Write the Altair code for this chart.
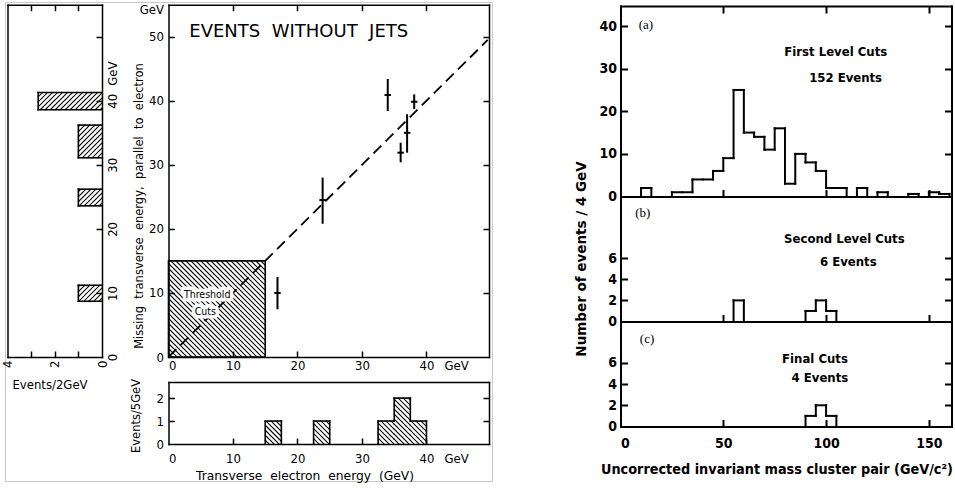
import altair as alt
import numpy as np
import pandas as pd

W, H = 955, 488

# ---------------- data ----------------
# Left figure: events without jets (transverse electron energy vs missing ET)
electron_et = [34.0, 38.1, 37.0, 36.0, 23.9, 16.9]
missing_et = [40.9, 39.85, 35.0, 31.9, 24.5, 10.0]
missing_lo = [38.4, 38.7, 31.9, 30.4, 20.8, 7.45]
missing_hi = [43.4, 41.0, 37.9, 33.45, 28.0, 12.5]
electron_err = [0.5, 0.5, 0.5, 0.5, 0.5, 0.5]
diagonal = [0.0, 49.5]
threshold_lo = [0.0]
threshold_hi = [15.0]

# projection on missing transverse energy (Events/2GeV)
proj_lo = [8.7, 23.6, 31.1, 38.6]
proj_hi = [11.2, 26.2, 36.2, 41.3]
proj_n = [1, 1, 1, 2.7]

# projection on transverse electron energy (Events/5GeV)
ele_lo = [15.0, 22.5, 32.5, 35.0, 37.5]
ele_hi = [17.5, 25.0, 35.0, 37.5, 40.0]
ele_n = [1, 1, 1, 2, 1]

# Right figure: uncorrected invariant mass of cluster pair
bin_width = 5
mass_lo_a = [10, 25, 30, 35, 40, 45, 50, 55, 60, 65, 70, 75, 80, 85, 90, 95,
             100, 105, 115, 125, 140, 150, 155]
count_a = [2, 1, 1, 4, 4, 6, 9, 25, 15, 14, 11, 16, 3, 10, 8, 6,
           2, 2, 2, 1, 0.6, 1, 0.6]
mass_lo_b = [55, 90, 95, 100]
count_b = [2, 1, 2, 1]
mass_lo_c = [90, 95, 100]
count_c = [1, 2, 1]

# tick values / labels
main_ticks = [10, 20, 30, 40, 50]
main_x_ticks = [10, 20, 30, 40]
main_y_labels = [0, 10, 20, 30, 40, 50, 54.2]
main_x_labels = [0, 10, 20, 30, 40, 44.6]
side_labels = [0, 10, 20, 30, 40, 44.3]
side_count_ticks = [1, 2, 3]
side_count_labels = [0, 2, 4]
bottom_y_ticks = [1, 2]
bottom_y_labels = [0, 1, 2]
mass_ticks = [50, 100, 150]
mass_labels = [0, 50, 100, 150]
a_ticks = [10, 20, 30, 40]
a_labels = [0, 10, 20, 30, 40]
bc_ticks = [2, 4, 6]
bc_labels = [0, 2, 4, 6]

# ---------------- layout (pixels) ----------------
MX_D, MX_R = (0, 49.7), (168.5, 489)
MY_D, MY_R = (0, 55), (357, 4.7)
LX_D, LX_R = (0, 4), (102, 7.5)
BY_D, BY_R = (0, 2.7), (444, 382)
RX_D, RX_R = (0, 161), (620.5, 951.5)
AY_D, AY_R = (0, 44.7), (196.5, 6)
BY2_D, BY2_R = (0, 11.85), (321.5, 196.5)
CY_D, CY_R = (0, 9.9), (426.5, 321.5)

FONT_C = "DejaVu Sans Condensed, DejaVu Sans"
FONT_N = "DejaVu Sans"
SP2 = "\u00a0\u00a0"
ONE = pd.DataFrame({"a": [0]})


def S(d, r):
    return alt.Scale(domain=list(d), range=list(r), nice=False, zero=False)


def lin(d, r):
    (d0, d1), (r0, r1) = d, r
    return (lambda v: r0 + (v - d0) * (r1 - r0) / (d1 - d0),
            lambda p: d0 + (p - r0) * (d1 - d0) / (r1 - r0))


def hatch(rects, xd, xr, yd, yr, slope, step=5.0):
    fx, gx = lin(xd, xr)
    fy, gy = lin(yd, yr)
    rows = []
    for (x0, x1, y0, y1) in rects:
        u0, u1 = sorted([fx(x0), fx(x1)])
        w0, w1 = sorted([-fy(y0), -fy(y1)])
        if slope > 0:
            kmin, kmax = w0 - u1, w1 - u0
        else:
            kmin, kmax = w0 + u0, w1 + u1
        for n in range(int(np.ceil(kmin / step)), int(np.floor(kmax / step)) + 1):
            k = n * step
            if slope > 0:
                ua, ub = max(u0, w0 - k), min(u1, w1 - k)
                wa, wb = ua + k, ub + k
            else:
                ua, ub = max(u0, k - w1), min(u1, k - w0)
                wa, wb = -ua + k, -ub + k
            if ub - ua < 0.4:
                continue
            rows.append((gx(ua), gy(-wa), gx(ub), gy(-wb)))
    return pd.DataFrame(rows, columns=["x", "y", "x2", "y2"])


def steps(lo, hi, n):
    segs = [(a, b, h, h) for a, b, h in zip(lo, hi, n)]
    for e in sorted(set(lo) | set(hi)):
        left = sum(h for a, b, h in zip(lo, hi, n) if abs(b - e) < 1e-9)
        right = sum(h for a, b, h in zip(lo, hi, n) if abs(a - e) < 1e-9)
        if abs(left - right) > 1e-9:
            segs.append((e, e, min(left, right), max(left, right)))
    return pd.DataFrame(segs, columns=["p0", "p1", "v0", "v1"])


def ax_layer(ch, dom, rng, orient, at, values, labels=False, ticks=True,
             domain=True, width=1.5, tick_size=6, **kw):
    off = {"left": -at, "right": at - W, "top": -at, "bottom": at - H}[orient]
    if not values:
        ticks = False
    axis = alt.Axis(orient=orient, offset=off, values=list(values), labels=labels,
                    ticks=ticks, domain=domain, grid=False, title=None,
                    tickSize=tick_size, tickWidth=width, domainWidth=width,
                    domainColor="black", tickColor="black", domainCap="square",
                    labelColor="black", zindex=2, **kw)
    df = pd.DataFrame({"v": [dom[0]]})
    enc = (alt.X("v:Q", scale=S(dom, rng), axis=axis) if ch == "x"
           else alt.Y("v:Q", scale=S(dom, rng), axis=axis))
    return alt.Chart(df).mark_point(opacity=0).encode(**{ch: enc})


def frame(xd, xr, yd, yr, t_bottom, t_top, t_left, t_right, width, ts):
    xl, xg = min(xr), max(xr)
    yb, yt = max(yr), min(yr)
    return [
        ax_layer("x", xd, xr, "top", yb, t_bottom, width=width, tick_size=ts),
        ax_layer("x", xd, xr, "bottom", yt, t_top, width=width, tick_size=ts),
        ax_layer("y", yd, yr, "right", xl, t_left, width=width, tick_size=ts),
        ax_layer("y", yd, yr, "left", xg, t_right, width=width, tick_size=ts),
    ]


def ptext(text, x, y, size, font, weight="normal", angle=0, align="center"):
    return alt.Chart(ONE).mark_text(text=text, fontSize=size, font=font, fontWeight=weight,
                                    angle=angle, align=align, baseline="middle",
                                    color="black").encode(x=alt.value(x), y=alt.value(y))


def dtext(texts, xs, ys, xd, xr, yd, yr, size, font, weight="normal", align="center",
          halo=False):
    df = pd.DataFrame({"t": texts, "x": xs, "y": ys})
    enc = dict(x=alt.X("x:Q", scale=S(xd, xr), axis=None),
               y=alt.Y("y:Q", scale=S(yd, yr), axis=None), text="t:N")
    out = []
    if halo:
        out.append(alt.Chart(df).mark_text(fontSize=size, font=font, fontWeight=weight,
                                           align=align, baseline="middle", color="white",
                                           stroke="white", strokeWidth=7,
                                           strokeJoin="round").encode(**enc))
    out.append(alt.Chart(df).mark_text(fontSize=size, font=font, fontWeight=weight,
                                       align=align, baseline="middle",
                                       color="black").encode(**enc))
    return out


def seg_layer(df, xd, xr, yd, yr, xcols, ycols, width):
    return alt.Chart(df).mark_rule(color="black", strokeWidth=width, strokeCap="square").encode(
        x=alt.X(f"{xcols[0]}:Q", scale=S(xd, xr), axis=None), x2=f"{xcols[1]}:Q",
        y=alt.Y(f"{ycols[0]}:Q", scale=S(yd, yr), axis=None), y2=f"{ycols[1]}:Q")


layers = []

# light border around the left figure
layers.append(alt.Chart(ONE).mark_rect(fill="white", fillOpacity=0, stroke="#c8c8c8",
                                        strokeWidth=1).encode(
    x=alt.value(5.5), x2=alt.value(492.5), y=alt.value(2.5), y2=alt.value(481.5)))

# ---------- main panel ----------
thr_rect = [(threshold_lo[0], threshold_hi[0], threshold_lo[0], threshold_hi[0])]
layers.append(seg_layer(hatch(thr_rect, MX_D, MX_R, MY_D, MY_R, -1, 5.0),
                        MX_D, MX_R, MY_D, MY_R, ("x", "x2"), ("y", "y2"), 1.1))
diag_df = pd.DataFrame({"x": diagonal, "y": diagonal})
layers.append(alt.Chart(diag_df).mark_line(color="black", strokeWidth=1.8,
                                           strokeDash=[11, 6]).encode(
    x=alt.X("x:Q", scale=S(MX_D, MX_R), axis=None),
    y=alt.Y("y:Q", scale=S(MY_D, MY_R), axis=None)))
thr_df = pd.DataFrame({"lo": threshold_lo, "hi": threshold_hi})
layers.append(alt.Chart(thr_df).mark_rect(fill="white", fillOpacity=0, stroke="black",
                                          strokeWidth=1.6).encode(
    x=alt.X("lo:Q", scale=S(MX_D, MX_R), axis=None), x2="hi:Q",
    y=alt.Y("lo:Q", scale=S(MY_D, MY_R), axis=None), y2="hi:Q"))
layers += dtext(["Threshold", "Cuts"], [6.0, 5.7], [9.7, 7.1], MX_D, MX_R, MY_D, MY_R,
                10.5, FONT_C, halo=True)

pts = pd.DataFrame({"x": electron_et, "y": missing_et, "ylo": missing_lo,
                    "yhi": missing_hi, "e": electron_err})
pts["xlo"] = pts["x"] - pts["e"]
pts["xhi"] = pts["x"] + pts["e"]
layers.append(alt.Chart(pts).mark_rule(color="black", strokeWidth=2).encode(
    x=alt.X("x:Q", scale=S(MX_D, MX_R), axis=None),
    y=alt.Y("ylo:Q", scale=S(MY_D, MY_R), axis=None), y2="yhi:Q"))
layers.append(alt.Chart(pts).mark_rule(color="black", strokeWidth=2).encode(
    x=alt.X("xlo:Q", scale=S(MX_D, MX_R), axis=None), x2="xhi:Q",
    y=alt.Y("y:Q", scale=S(MY_D, MY_R), axis=None)))
layers += dtext([SP2.join(["EVENTS", "WITHOUT", "JETS"])], [20.2], [50.8],
                MX_D, MX_R, MY_D, MY_R, 18, FONT_N)

layers += frame(MX_D, MX_R, MY_D, MY_R, main_x_ticks, main_x_ticks, main_ticks,
                main_ticks, 1.5, 6)
layers.append(ax_layer("y", MY_D, MY_R, "left", MX_R[0], main_y_labels, labels=True,
                       ticks=False, domain=False, labelFont=FONT_C, labelFontSize=13,
                       labelPadding=5,
                       labelExpr="datum.value > 52 ? 'GeV' : datum.label"))
layers.append(ax_layer("x", MX_D, MX_R, "bottom", MY_R[0], main_x_labels, labels=True,
                       ticks=False, domain=False, labelFont=FONT_C, labelFontSize=13,
                       labelPadding=2,
                       labelExpr="datum.value > 42 ? 'GeV' : datum.label"))

# ---------- side projection (missing ET) ----------
side_rects = [(0, n, a, b) for a, b, n in zip(proj_lo, proj_hi, proj_n)]
layers.append(seg_layer(hatch(side_rects, LX_D, LX_R, MY_D, MY_R, 1, 5.0),
                        LX_D, LX_R, MY_D, MY_R, ("x", "x2"), ("y", "y2"), 1.1))
layers.append(seg_layer(steps(proj_lo, proj_hi, proj_n), LX_D, LX_R, MY_D, MY_R,
                        ("v0", "v1"), ("p0", "p1"), 1.6))
layers += frame(LX_D, LX_R, MY_D, MY_R, side_count_ticks, side_count_ticks, [],
                main_ticks, 1.5, 6)
layers.append(ax_layer("y", MY_D, MY_R, "right", LX_R[0], side_labels, labels=True,
                       ticks=False, domain=False, labelFont=FONT_C, labelFontSize=13,
                       labelPadding=4, labelAngle=270, labelAlign="center",
                       labelBaseline="top",
                       labelExpr="datum.value > 42 ? 'GeV' : datum.label"))
layers.append(ax_layer("x", LX_D, LX_R, "bottom", MY_R[0], side_count_labels, labels=True,
                       ticks=False, domain=False, labelFont=FONT_C, labelFontSize=13,
                       labelPadding=3, labelAngle=270, labelAlign="right",
                       labelBaseline="middle"))

# ---------- bottom projection (electron ET) ----------
ele_rects = [(a, b, 0, n) for a, b, n in zip(ele_lo, ele_hi, ele_n)]
layers.append(seg_layer(hatch(ele_rects, MX_D, MX_R, BY_D, BY_R, -1, 5.0),
                        MX_D, MX_R, BY_D, BY_R, ("x", "x2"), ("y", "y2"), 1.1))
layers.append(seg_layer(steps(ele_lo, ele_hi, ele_n), MX_D, MX_R, BY_D, BY_R,
                        ("p0", "p1"), ("v0", "v1"), 1.6))
layers += frame(MX_D, MX_R, BY_D, BY_R, main_x_ticks, [], bottom_y_ticks,
                bottom_y_ticks, 1.5, 6)
layers.append(ax_layer("y", BY_D, BY_R, "left", MX_R[0], bottom_y_labels, labels=True,
                       ticks=False, domain=False, labelFont=FONT_C, labelFontSize=13,
                       labelPadding=5))
layers.append(ax_layer("x", MX_D, MX_R, "bottom", BY_R[0], main_x_labels, labels=True,
                       ticks=False, domain=False, labelFont=FONT_C, labelFontSize=13,
                       labelPadding=8,
                       labelExpr="datum.value > 42 ? 'GeV' : datum.label"))

# outer texts of left figure
layers.append(ptext(SP2.join(["Missing", "transverse", "energy,", "parallel", "to",
                              "electron"]), 140, 206, 11.5, FONT_N, angle=270))
layers.append(ptext("Events/5GeV", 137, 416, 11.5, FONT_N, angle=270))
layers.append(ptext("Events/2GeV", 50, 385, 13, FONT_C))
layers.append(ptext(SP2.join(["Transverse", "electron", "energy", "(GeV)"]), 305, 476,
                    12.3, FONT_N))

# ---------- right figure ----------
for lo, cnt, yd, yr in [(mass_lo_a, count_a, AY_D, AY_R),
                        (mass_lo_b, count_b, BY2_D, BY2_R),
                        (mass_lo_c, count_c, CY_D, CY_R)]:
    hi = [v + bin_width for v in lo]
    layers.append(seg_layer(steps(lo, hi, cnt), RX_D, RX_R, yd, yr,
                            ("p0", "p1"), ("v0", "v1"), 2))

layers += frame(RX_D, RX_R, AY_D, AY_R, mass_ticks, mass_ticks, a_ticks, a_ticks, 2, 7)
layers += frame(RX_D, RX_R, BY2_D, BY2_R, mass_ticks, [], bc_ticks, bc_ticks, 2, 7)
layers += frame(RX_D, RX_R, CY_D, CY_R, mass_ticks, [], bc_ticks, bc_ticks, 2, 7)
for yd, yr, vals in [(AY_D, AY_R, a_labels), (BY2_D, BY2_R, bc_labels),
                     (CY_D, CY_R, bc_labels)]:
    layers.append(ax_layer("y", yd, yr, "left", RX_R[0], vals, labels=True, ticks=False,
                           domain=False, labelFont=FONT_C, labelFontSize=14,
                           labelFontWeight="bold", labelPadding=4))
layers.append(ax_layer("x", RX_D, RX_R, "bottom", CY_R[0], mass_labels, labels=True,
                       ticks=False, domain=False, labelFont=FONT_C, labelFontSize=14,
                       labelFontWeight="bold", labelPadding=10))

SERIF = "Liberation Serif"
layers += dtext(["(a)"], [12.4], [40.2], RX_D, RX_R, AY_D, AY_R, 13, SERIF)
layers += dtext(["First Level Cuts", "152 Events"], [104.7, 109.5], [34.0, 27.7],
                RX_D, RX_R, AY_D, AY_R, 13, FONT_C, weight="bold")
layers += dtext(["(b)"], [10.8], [10.3], RX_D, RX_R, BY2_D, BY2_R, 13, SERIF)
layers += dtext(["Second Level Cuts", "6 Events"], [108.9, 110.8], [7.8, 5.6],
                RX_D, RX_R, BY2_D, BY2_R, 13, FONT_C, weight="bold")
layers += dtext(["(c)"], [12.9], [8.25], RX_D, RX_R, CY_D, CY_R, 13, SERIF)
layers += dtext(["Final Cuts", "4 Events"], [94.6, 97.0], [6.4, 4.6],
                RX_D, RX_R, CY_D, CY_R, 13, FONT_C, weight="bold")

layers.append(ptext("Number of events / 4 GeV", 582, 259, 13.5, FONT_N, weight="bold",
                    angle=270))
layers.append(ptext("Uncorrected invariant mass cluster pair (GeV/c²)", 777, 470, 14.3,
                    FONT_C, weight="bold"))

chart = (alt.layer(*layers)
         .resolve_scale(x="independent", y="independent")
         .properties(width=W, height=H, padding=0,
                     autosize=alt.AutoSizeParams(type="none"))
         .configure_view(stroke=None)
         .configure_axis(grid=False))

chart.save("out.html", embed_options={"renderer": "svg", "actions": False})
